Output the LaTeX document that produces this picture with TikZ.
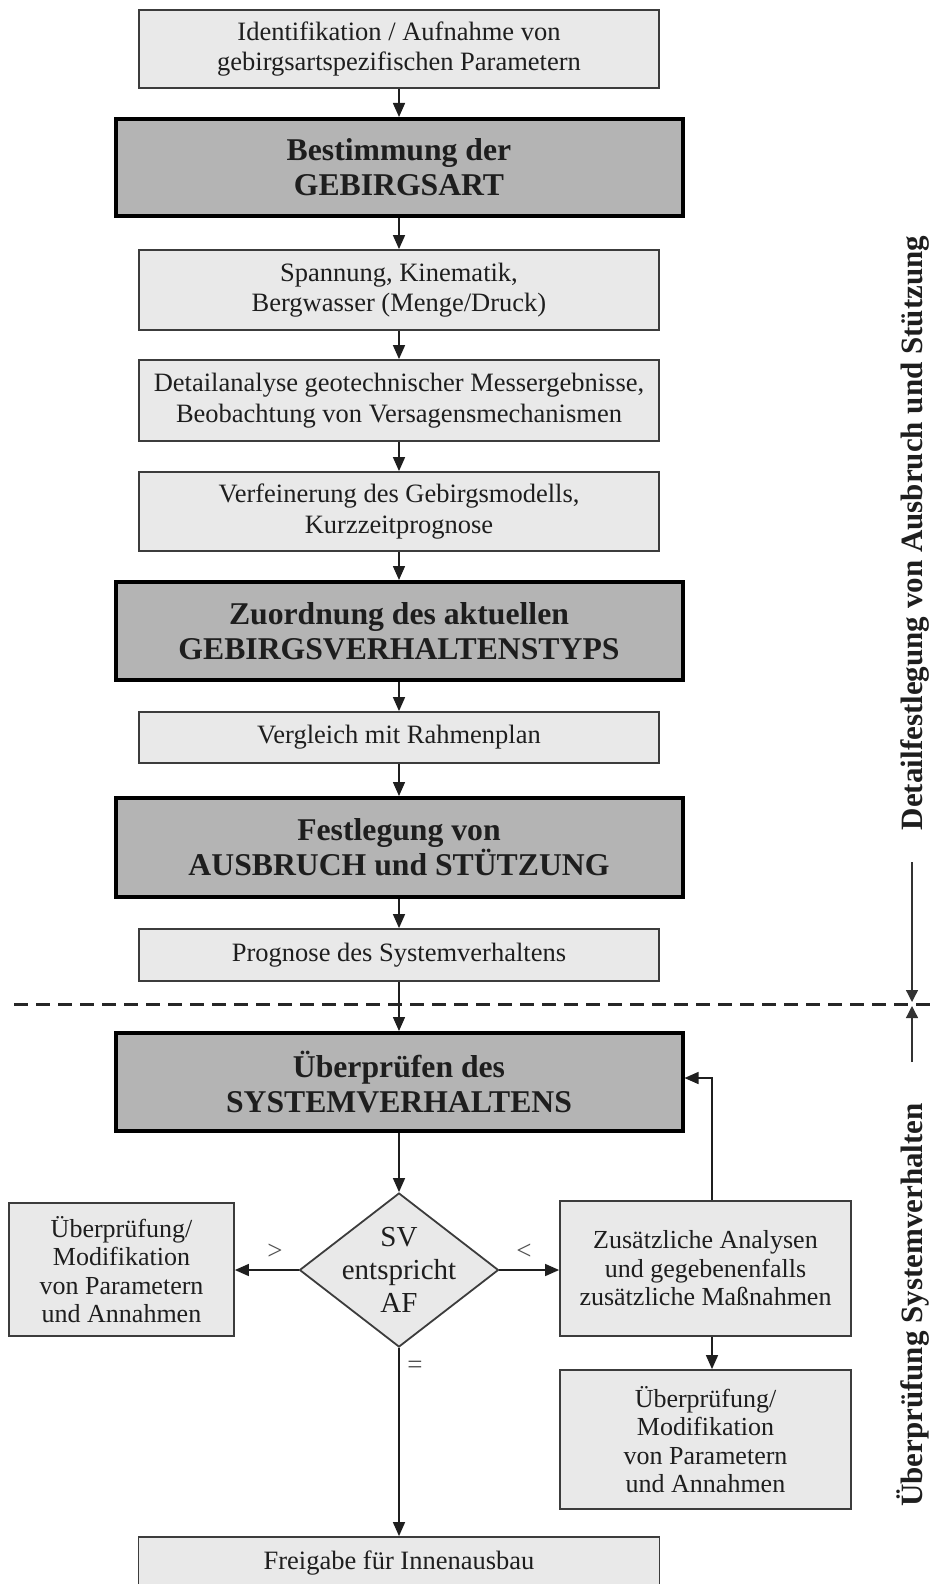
\documentclass[tikz,border=0pt]{standalone}
\usepackage{fontspec}
\setmainfont{Liberation Serif}
\usetikzlibrary{shapes.geometric,arrows.meta,calc}
\definecolor{lightfill}{HTML}{E9E9E9}
\definecolor{darkfill}{HTML}{B4B4B4}
\definecolor{lightline}{HTML}{3C3C3C}
\definecolor{txt}{HTML}{1E1E1E}
\definecolor{symb}{HTML}{505050}
\begin{document}
\begin{tikzpicture}[x=1pt,y=-1pt,
  lightbox/.style={draw=lightline, line width=1.8pt, fill=lightfill, text=txt, align=center,
    font=\fontsize{26.5}{30.5}\selectfont, inner sep=0pt},
  smallbox/.style={lightbox, font=\fontsize{26}{28.5}\selectfont},
  darkbox/.style={draw=black, line width=4pt, fill=darkfill, text=txt, align=center,
    font=\bfseries\fontsize{31.7}{35}\selectfont, inner sep=0pt, minimum width=567pt},
  arr/.style={-{Triangle[length=14pt,width=12pt]}, line width=1.5pt, draw=black!88},
  marr/.style={-{Triangle[length=12pt,width=12pt]}, line width=1.3pt, draw=black!80},
  sidelabel/.style={rotate=90, anchor=base, text=txt, font=\bfseries\fontsize{31}{35}\selectfont, inner sep=0pt},
  cmp/.style={text=symb, font=\fontsize{27}{30}\selectfont, inner sep=0pt}
]
\useasboundingbox (0,0) rectangle (932,1584);

% main column
\node[lightbox, minimum width=520pt, minimum height=78pt] (b1) at (399,49)
  {Identifikation / Aufnahme von\\gebirgsartspezifischen Parametern};
\node[darkbox, minimum height=97pt] (b2) at (399,167.5) {Bestimmung der\\GEBIRGSART};
\node[lightbox, minimum width=520pt, minimum height=80pt] (b3) at (399,290)
  {Spannung, Kinematik,\\Bergwasser (Menge/Druck)};
\node[lightbox, minimum width=520pt, minimum height=81pt] (b4) at (399,400.5)
  {Detailanalyse geotechnischer Messergebnisse,\\Beobachtung von Versagensmechanismen};
\node[lightbox, minimum width=520pt, minimum height=79pt] (b5) at (399,511.5)
  {Verfeinerung des Gebirgsmodells,\\Kurzzeitprognose};
\node[darkbox, minimum height=98pt] (b6) at (399,631) {Zuordnung des aktuellen\\GEBIRGSVERHALTENSTYPS};
\node[lightbox, minimum width=520pt, minimum height=51pt] (b7) at (399,737.5) {Vergleich mit Rahmenplan};
\node[darkbox, minimum height=99pt] (b8) at (399,847.5) {Festlegung von\\AUSBRUCH und STÜTZUNG};
\node[lightbox, minimum width=520pt, minimum height=52pt] (b9) at (399,955) {Prognose des Systemverhaltens};
\node[darkbox, minimum height=98pt] (b10) at (399,1082) {Überprüfen des\\SYSTEMVERHALTENS};

% decision
\node[diamond, draw=lightline, line width=1.8pt, fill=lightfill, minimum width=199pt,
  minimum height=154pt, inner sep=0pt] (dia) at (399,1270) {};
\node[text=txt, align=center, font=\fontsize{29}{33}\selectfont, inner sep=0pt] (diat) at (dia.center)
  {SV\\entspricht\\AF};

\node[smallbox, minimum width=225pt, minimum height=133pt] (lb) at (121.5,1269.5)
  {Überprüfung/\\Modifikation\\von Parametern\\und Annahmen};
\node[smallbox, minimum width=291pt, minimum height=135pt] (rb) at (705.5,1268.5)
  {Zusätzliche Analysen\\und gegebenenfalls\\zusätzliche Maßnahmen};
\node[smallbox, minimum width=291pt, minimum height=139pt] (rb2) at (705.5,1439.5)
  {Überprüfung/\\Modifikation\\von Parametern\\und Annahmen};
\node[lightbox, minimum width=521pt, minimum height=52pt] (fb) at (399,1563)
  {Freigabe für Innenausbau};

% connectors
\draw[arr] (b1.south) -- (b2.north);
\draw[arr] (b2.south) -- (b3.north);
\draw[arr] (b3.south) -- (b4.north);
\draw[arr] (b4.south) -- (b5.north);
\draw[arr] (b5.south) -- (b6.north);
\draw[arr] (b6.south) -- (b7.north);
\draw[arr] (b7.south) -- (b8.north);
\draw[arr] (b8.south) -- (b9.north);
\draw[arr] (b9.south) -- (b10.north);
\draw[arr] (b10.south) -- (dia.north);
\draw[arr] (dia.west) -- (dia.west -| lb.east);
\draw[arr] (dia.east) -- (dia.east -| rb.west);
\draw[arr] (dia.south) -- (fb.north);
\coordinate (fx) at (712,1078);
\draw[arr] (rb.north -| fx) |- (b10.east |- fx);
\draw[arr] (rb.south -| fx) -- (rb2.north -| fx);

% comparison symbols
\node[cmp] (gt) at (275,1252) {>};
\node[cmp] (lt) at (524,1252) {<};
\node[cmp] (eq) at (415,1367) {=};

% dashed separator
\coordinate (dl) at (14,1004);
\coordinate (dr) at (932,1004);
\draw[line width=3pt, draw=black!85, dash pattern=on 14pt off 8pt] (dl) -- (dr);

% side markers
\coordinate (m1) at (912,862);
\coordinate (m0) at (912,1002);
\coordinate (m2) at (912,1062);
\coordinate (m3) at (912,1006);
\draw[marr] (m1) -- (m0);
\draw[marr] (m2) -- (m3);
\node[sidelabel] (sl1) at (922,533) {Detailfestlegung von Ausbruch und Stützung};
\node[sidelabel] (sl2) at (922,1305) {Überprüfung Systemverhalten};
\end{tikzpicture}
\end{document}
